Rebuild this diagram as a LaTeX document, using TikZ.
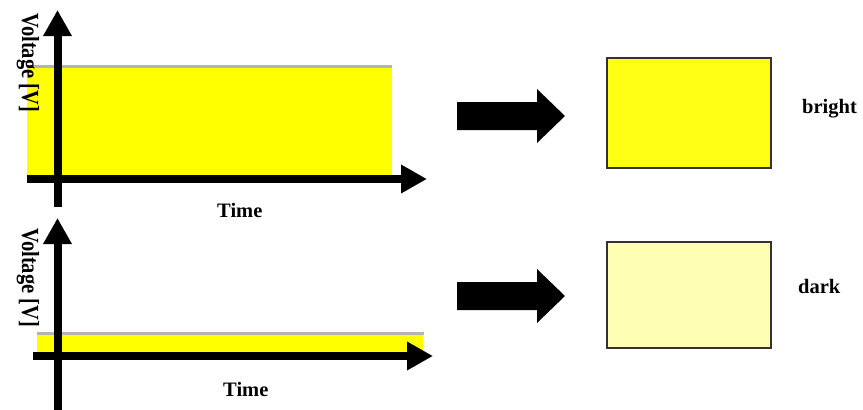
\documentclass[tikz,border=0pt]{standalone}
\usepackage{fontspec}
\setmainfont{Liberation Serif}
\usetikzlibrary{arrows.meta}
\definecolor{plotyellow}{HTML}{FFFF00}
\definecolor{brightyellow}{HTML}{FFFF14}
\definecolor{darkyellow}{HTML}{FFFFB4}
\definecolor{edgegray}{HTML}{B4B4B4}
\begin{document}
\begin{tikzpicture}[x=1pt,y=-1pt,
	axis/.style={line width=8pt,-{Triangle[length=26pt,width=27pt]}},
	lbl/.style={font=\fontsize{20.5}{24}\selectfont\bfseries,inner sep=0pt},
	lamp/.style={draw=black!80,line width=1.5pt}]
	\useasboundingbox (0,0) rectangle (863,410);
	% top graph: high voltage
	\fill[plotyellow] (27,67) rectangle (392,179);
	\draw[edgegray,line width=3pt] (27,66) -- (392,66);
	\coordinate (y1a) at (57.5,207); \coordinate (y1b) at (57.5,10);
	\coordinate (x1a) at (27,179); \coordinate (x1b) at (427,179);
	\draw[axis] (y1a) -- (y1b);
	\draw[axis] (x1a) -- (x1b);
	\node[lbl,rotate=-90,anchor=base west] (volt1) at (22,13) {\scalebox{1}[1.2]{Voltage [V]}};
	\node[lbl,anchor=base west] (time1) at (217,217) {Time};
	% bottom graph: low voltage
	\fill[plotyellow] (37,334) rectangle (423,356);
	\draw[edgegray,line width=3pt] (37,333) -- (424,333);
	\coordinate (y2a) at (57.5,412); \coordinate (y2b) at (57.5,218);
	\coordinate (x2a) at (33,356); \coordinate (x2b) at (433,356);
	\draw[axis] (y2a) -- (y2b);
	\draw[axis] (x2a) -- (x2b);
	\node[lbl,rotate=-90,anchor=base west] (volt2) at (22,228) {\scalebox{1}[1.2]{Voltage [V]}};
	\node[lbl,anchor=base west] (time2) at (223,396) {Time};
	% block arrows
	\foreach \yc in {116,296}
		\fill (457,\yc-14) -- (537,\yc-14) -- (537,\yc-27) -- (565,\yc) -- (537,\yc+27) -- (537,\yc+14) -- (457,\yc+14) -- cycle;
	% lamps
	\filldraw[lamp,fill=brightyellow] (607,58) rectangle (771,168);
	\filldraw[lamp,fill=darkyellow] (607,242) rectangle (771,348);
	\node[lbl,anchor=base west] (bright) at (802,113) {bright};
	\node[lbl,anchor=base west] (dark) at (798,293) {dark};
\end{tikzpicture}
\end{document}
